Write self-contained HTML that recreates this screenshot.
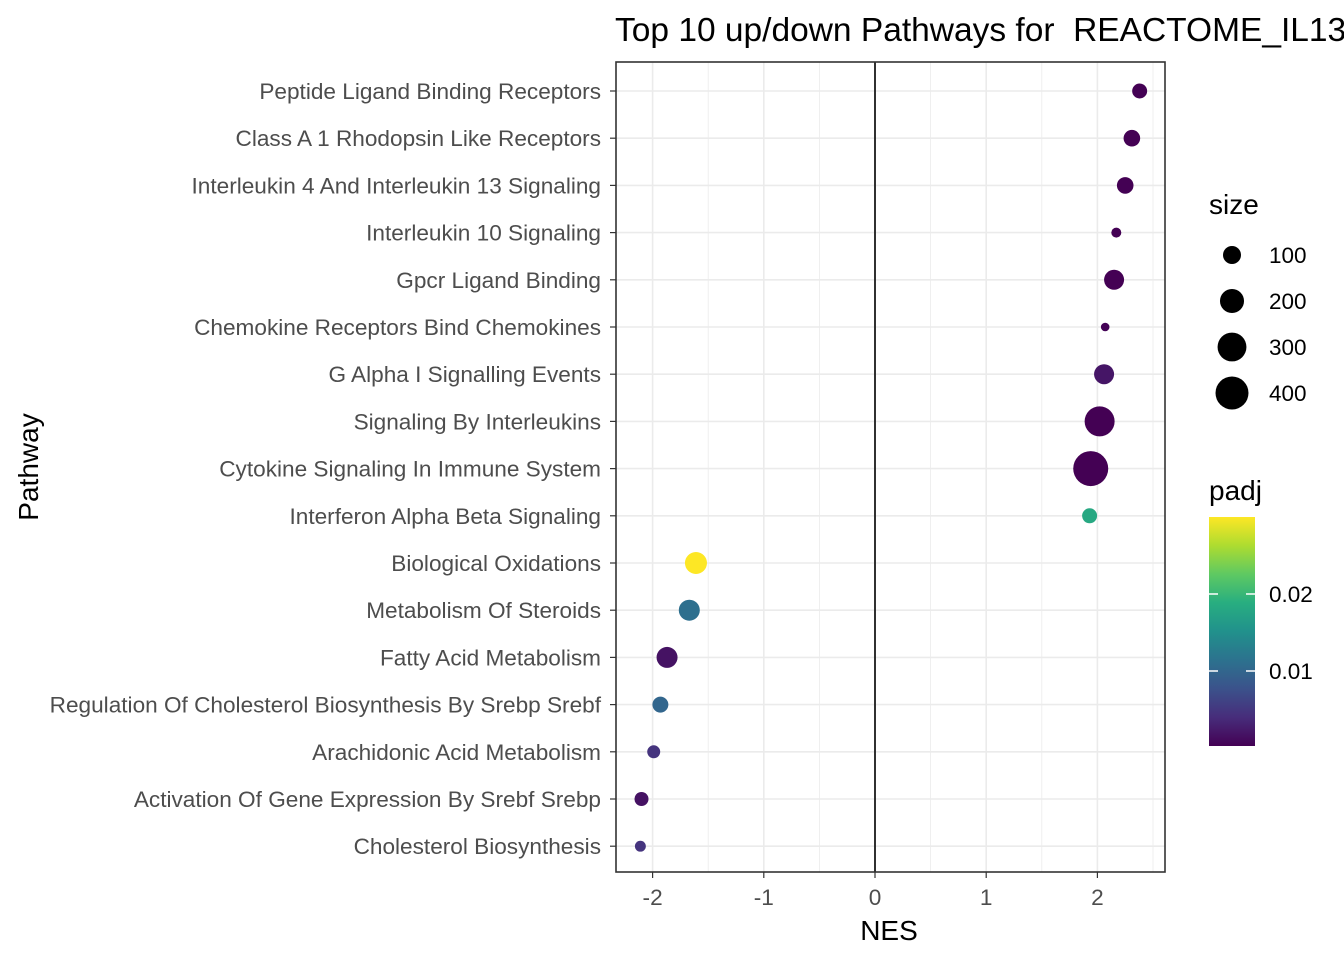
<!DOCTYPE html>
<html><head><meta charset="utf-8"><style>
body{margin:0;background:#fff;}
svg text{font-family:"Liberation Sans",Arial,sans-serif;}
</style></head><body>
<svg id="chart" width="1344" height="960" xmlns="http://www.w3.org/2000/svg">
<defs>
<linearGradient id="vir" x1="0" y1="1" x2="0" y2="0">
<stop offset="0" stop-color="#440154"/><stop offset="0.125" stop-color="#472d7b"/><stop offset="0.25" stop-color="#3b528b"/><stop offset="0.375" stop-color="#2c728e"/><stop offset="0.5" stop-color="#21918c"/><stop offset="0.625" stop-color="#28ae80"/><stop offset="0.75" stop-color="#5ec962"/><stop offset="0.875" stop-color="#addc30"/><stop offset="1" stop-color="#fde725"/>
</linearGradient>
</defs>
<text x="615" y="41" font-size="33.5" fill="#000" xml:space="preserve">Top 10 up/down Pathways for  REACTOME_IL13</text>
<g id="panel"></g>
<text x="889" y="940" font-size="28" text-anchor="middle">NES</text>
<text transform="translate(38,467) rotate(-90)" font-size="28" text-anchor="middle">Pathway</text>
<g id="sizeLeg">
<text x="1209" y="214" font-size="28">size</text>
</g>
<g>
<text x="1209" y="500" font-size="28">padj</text>
<rect x="1209" y="517" width="46" height="229" fill="url(#vir)"/>
<line x1="1209" y1="594" x2="1218" y2="594" stroke="#fff" stroke-width="1.5"/><line x1="1246" y1="594" x2="1255" y2="594" stroke="#fff" stroke-width="1.5"/>
<line x1="1209" y1="671" x2="1218" y2="671" stroke="#fff" stroke-width="1.5"/><line x1="1246" y1="671" x2="1255" y2="671" stroke="#fff" stroke-width="1.5"/>
<text x="1269" y="602" font-size="22.5" fill="#000">0.02</text>
<text x="1269" y="679" font-size="22.5" fill="#000">0.01</text>
</g>
</svg>
<script>
const pathways=["Peptide Ligand Binding Receptors","Class A 1 Rhodopsin Like Receptors","Interleukin 4 And Interleukin 13 Signaling","Interleukin 10 Signaling","Gpcr Ligand Binding","Chemokine Receptors Bind Chemokines","G Alpha I Signalling Events","Signaling By Interleukins","Cytokine Signaling In Immune System","Interferon Alpha Beta Signaling","Biological Oxidations","Metabolism Of Steroids","Fatty Acid Metabolism","Regulation Of Cholesterol Biosynthesis By Srebp Srebf","Arachidonic Acid Metabolism","Activation Of Gene Expression By Srebf Srebp","Cholesterol Biosynthesis"];
const nes=[2.38,2.31,2.25,2.17,2.15,2.07,2.06,2.02,1.94,1.93,-1.61,-1.67,-1.87,-1.93,-1.99,-2.10,-2.11];
const sizes=[61,81,81,12,130,2,130,326,454,61,163,146,146,73,39,50,20];
const padj=[0.0003,0.0003,0.0003,0.0003,0.0003,0.0005,0.002,0.0003,0.0003,0.018,0.0298,0.011,0.0017,0.010,0.0047,0.0017,0.0047];
const xTicks=[-2,-1,0,1,2];
const sizeBreaks=[100,200,300,400];

const NS="http://www.w3.org/2000/svg";
const L=616,R=1165,T=62,B=872;
const x=v=>875+v*111.2;
const y=i=>91+i*47.2;
const rad=s=>Math.sqrt(17.3+0.637*s);
const vir=["#440154","#472d7b","#3b528b","#2c728e","#21918c","#28ae80","#5ec962","#addc30","#fde725"];
function hex(h){return [1,3,5].map(k=>parseInt(h.substr(k,2),16));}
function col(p){let t=(p-0.0003)/(0.0298-0.0003);t=Math.max(0,Math.min(1,t))*8;const i=Math.min(7,Math.floor(t)),f=t-i;const a=hex(vir[i]),b=hex(vir[i+1]);return "rgb("+a.map((v,k)=>Math.round(v+(b[k]-v)*f)).join(",")+")";}
function mk(tag,at,parent){const e=document.createElementNS(NS,tag);for(const k in at)e.setAttribute(k,at[k]);parent.appendChild(e);return e;}
const g=document.getElementById('panel');
mk('rect',{x:L,y:T,width:R-L,height:B-T,fill:'#fff'},g);
for(let v=-2.5;v<=2.5;v+=0.5){const px=x(v);if(px>L&&px<R)mk('line',{x1:px,x2:px,y1:T,y2:B,stroke:'#ebebeb','stroke-width':Number.isInteger(v)?1.6:0.8},g);}
pathways.forEach((p,i)=>{
  mk('line',{x1:L,x2:R,y1:y(i),y2:y(i),stroke:'#ebebeb','stroke-width':1.6},g);
  const t=mk('text',{x:601,y:y(i)+8,'font-size':22.6,fill:'#4d4d4d','text-anchor':'end'},g);
  
  
  t.textContent=p;
  mk('line',{x1:610,x2:616,y1:y(i),y2:y(i),stroke:'#333','stroke-width':1.2},g);
});
mk('line',{x1:x(0),x2:x(0),y1:T,y2:B,stroke:'#000','stroke-width':1.6},g);
xTicks.forEach(v=>{
  mk('line',{x1:x(v),x2:x(v),y1:B,y2:B+6,stroke:'#333','stroke-width':1.2},g);
  const t=mk('text',{x:x(v),y:B+33,'font-size':22.6,fill:'#4d4d4d','text-anchor':'middle'},g);
  
  
  t.textContent=v;
});
pathways.forEach((p,i)=>{
  const c=mk('circle',{cx:x(nes[i]),cy:y(i),r:rad(sizes[i]),fill:col(padj[i])},g);
  
  
});
mk('rect',{x:L,y:T,width:R-L,height:B-T,fill:'none',stroke:'#333','stroke-width':1.6},g);
const sl=document.getElementById('sizeLeg');
sizeBreaks.forEach((s,i)=>{
  const cy=255+i*46;
  const c=mk('circle',{cx:1232,cy:cy,r:rad(s),fill:'#000'},sl);
  
  
  const t=mk('text',{x:1269,y:cy+8,'font-size':22.5,fill:'#000'},sl);
  
  
  t.textContent=s;
});
</script>
</body></html>
